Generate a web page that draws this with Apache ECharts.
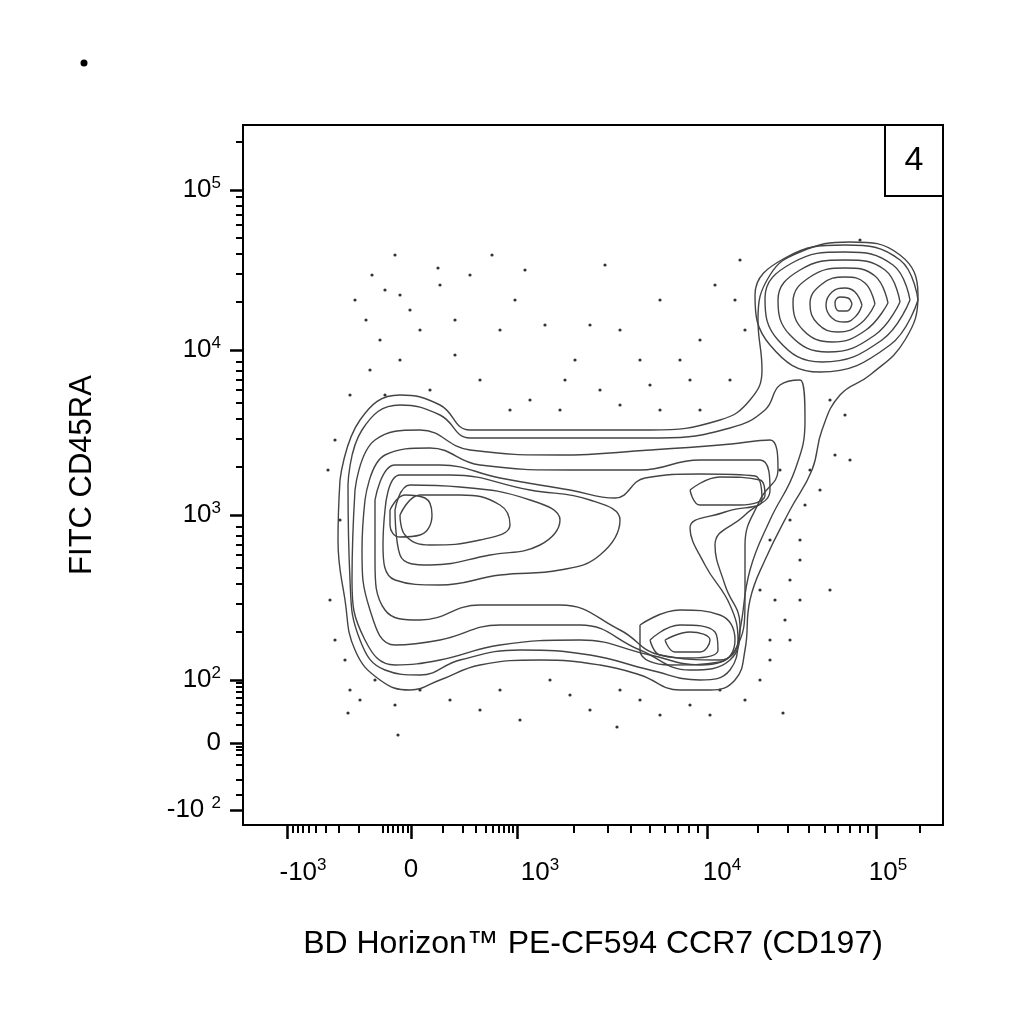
<!DOCTYPE html>
<html>
<head>
<meta charset="utf-8">
<script src="https://cdn.jsdelivr.net/npm/echarts@6/dist/echarts.min.js"></script>
<style>html,body{margin:0;padding:0;background:#fff}#chart{width:1024px;height:1024px}</style>
</head>
<body>
<div id="chart"></div>
<script>
// axis units are display channels of the biexponential scale (0..700 across the plot)
const xMajorTicks = [287, 411, 517, 707, 876];
const xMinorTicks = [293, 298, 303, 309, 316, 326, 339, 359, 383, 388, 393, 398, 403, 408,
  443, 463, 476, 486, 493, 499, 504, 509, 513,
  574, 608, 631, 650, 665, 678, 689, 698,
  758, 788, 809, 825, 838, 850, 860, 868, 920];
const xLabelPos = [303, 411, 540, 722, 888];
const xLabels = ['-10{s|3}', '0', '10{s|3}', '10{s|4}', '10{s|5}'];

const yMajorTicks = [190, 350, 515, 680, 743, 810];
const yMinorTicks = [142, 632, 604, 584, 568, 555, 545, 536, 527,
  467, 439, 419, 403, 390, 380, 371, 362,
  302, 274, 254, 238, 225, 215, 206, 197,
  725, 713, 705, 698, 692, 687, 683,
  747, 750, 755, 765, 780, 795];
const yLabelPos = [190, 350, 515, 680, 743, 810];
const yLabels = ['10{s|5}', '10{s|4}', '10{s|3}', '10{s|2}', '0', '-10 {s|2}'];

// contour lines
const contours = [
  [[340,480],[360,420],[400,395],[440,405],[470,430],[560,430],[650,430],[720,420],[750,400],[762,370],[758,320],[770,275],[800,252],[850,242],[900,255],[918,295],[905,340],[870,375],[840,395],[822,430],[812,470],[790,510],[765,560],[750,600],[745,650],[735,680],[710,690],[680,690],[640,675],[600,665],[540,660],[480,665],[440,680],[410,690],[380,680],[355,650],[345,600],[338,540]],
  [[348,485],[362,430],[400,405],[440,415],[470,438],[560,438],[660,438],[730,428],[765,410],[780,385],[800,380],[805,420],[795,470],[770,520],[750,570],[740,630],[730,670],[700,680],[650,670],[590,655],[520,650],[460,660],[420,675],[385,670],[360,640],[350,580]],
  [[355,490],[375,440],[420,430],[470,450],[560,455],[650,450],[720,445],[770,440],[778,470],[760,500],[745,545],[745,600],[735,650],[700,665],[650,655],[580,640],[500,645],[440,660],[395,665],[365,640],[352,580]],
  [[365,500],[385,455],[430,448],[480,465],[570,470],[640,470],[700,460],[760,460],[770,490],[745,515],[715,545],[725,585],[740,625],[730,660],[690,670],[640,650],[580,625],[500,625],[440,640],[395,645],[370,610],[362,550]],
  [[375,500],[395,465],[440,465],[500,478],[570,490],[615,498],[645,478],[700,474],[755,476],[762,500],[725,512],[690,528],[705,565],[730,605],[738,640],[720,660],[660,655],[620,630],[560,605],[480,605],[420,620],[385,610],[375,560]],
  [[385,510],[400,475],[450,475],[530,490],[590,500],[620,520],[600,555],[560,570],[500,575],[440,585],[395,580],[383,545]],
  [[395,510],[410,485],[460,487],[530,500],[560,520],[540,545],[490,555],[430,565],[400,555]],
  [[400,515],[420,495],[460,495],[500,505],[510,525],[480,540],[430,545],[405,535]],
  [[390,510],[405,495],[425,498],[432,515],[420,535],[400,537],[390,525]],
  [[690,490],[720,477],[760,480],[765,495],[740,505],[700,505]],
  [[640,625],[680,610],[720,615],[735,640],[720,662],[670,665],[640,650]],
  [[650,640],[680,625],[715,632],[718,650],[690,658],[660,655]],
  [[665,640],[690,632],[710,640],[700,652],[675,652]],
  [[918,300],[900,260],[845,245],[785,258],[755,295],[770,345],[820,372],[890,345]],
  [[910,300],[893,265],[845,252],[792,263],[765,298],[778,340],[822,362],[882,340]],
  [[900,302],[885,270],[845,260],[800,270],[778,300],[790,335],[828,352],[875,335]],
  [[888,303],[875,276],[845,268],[810,277],[793,302],[803,330],[832,342],[866,330]],
  [[875,304],[865,283],[845,277],[822,284],[810,304],[818,324],[838,332],[860,324]],
  [[862,305],[855,292],[845,288],[832,292],[826,305],[832,318],[845,322],[856,316]],
  [[852,304],[848,298],[840,297],[835,303],[839,311],[847,311]]
];

// outlying events
const dots = [[372,275],[385,290],[355,300],[400,295],[410,310],[438,268],[470,275],[492,255],[525,270],[395,255],
  [366,320],[380,340],[420,330],[455,320],[455,355],[400,360],[370,370],[350,395],[385,395],[430,390],
  [480,380],[510,410],[530,400],[545,325],[590,325],[605,265],[620,330],[640,360],[660,410],[690,380],
  [700,340],[715,285],[735,300],[730,380],[600,390],[560,410],[620,405],[575,360],[500,330],[660,300],
  [700,410],[745,330],[740,260],[335,440],[328,470],[340,520],[330,600],[335,640],[345,660],[350,690],
  [348,713],[360,700],[375,680],[395,705],[398,735],[420,690],[450,700],[480,710],[500,690],[520,720],
  [550,680],[570,695],[590,710],[617,727],[620,690],[640,700],[660,715],[690,705],[710,715],[720,690],
  [745,700],[760,680],[770,660],[783,713],[770,640],[785,620],[775,600],[790,580],[800,560],[800,540],
  [790,520],[805,505],[820,490],[835,455],[850,460],[830,590],[800,600],[790,640],[760,590],[810,470],
  [845,415],[830,400],[860,240],[780,470],[770,540],[440,285],[515,300],[565,380],[650,385],[680,360]];

const font = 'Liberation Sans, Arial, sans-serif';
const rich = { s: { fontSize: 17, verticalAlign: 'top', padding: [0, 0, 14, 0], fontFamily: font, color: '#000' } };

const chart = echarts.init(document.getElementById('chart'));

const series = contours.map(c => ({
  type: 'line', xAxisIndex: 0, yAxisIndex: 0,
  data: c.concat([c[0]]), smooth: 0.45, symbol: 'none', silent: true,
  lineStyle: { color: '#444', width: 1.4 }
}));
series.push({
  type: 'scatter', data: dots, symbolSize: 3.2,
  itemStyle: { color: '#000' }, silent: true
});

chart.setOption({
  animation: false,
  backgroundColor: '#fff',
  grid: { left: 243, right: 81, top: 125, bottom: 199, show: true, borderColor: '#000', borderWidth: 2 },
  xAxis: [{
    type: 'value', min: 243, max: 943,
    name: 'BD Horizon™ PE-CF594 CCR7 (CD197)', nameLocation: 'middle', nameGap: 103,
    nameTextStyle: { fontSize: 32, fontFamily: font, color: '#000' },
    axisLine: { show: true, lineStyle: { color: '#000', width: 2 } },
    splitLine: { show: false },
    axisTick: { customValues: xMajorTicks, length: 14, lineStyle: { color: '#000', width: 2.5 } },
    axisLabel: { customValues: xLabelPos, margin: 32, fontSize: 26, fontFamily: font, color: '#000', rich: rich,
      formatter: v => xLabels[xLabelPos.indexOf(v)] }
  }, {
    type: 'value', min: 243, max: 943, position: 'bottom',
    axisLine: { show: false }, splitLine: { show: false },
    axisTick: { customValues: xMinorTicks, length: 8, lineStyle: { color: '#000', width: 2 } },
    axisLabel: { show: false }
  }],
  yAxis: [{
    type: 'value', min: 125, max: 825, inverse: true,
    name: 'FITC CD45RA', nameLocation: 'middle', nameGap: 145,
    nameTextStyle: { fontSize: 31, fontFamily: font, color: '#000' },
    axisLine: { show: true, lineStyle: { color: '#000', width: 2 } },
    splitLine: { show: false },
    axisTick: { customValues: yMajorTicks, length: 13, lineStyle: { color: '#000', width: 2.5 } },
    axisLabel: { customValues: yLabelPos, margin: 22, fontSize: 26, fontFamily: font, color: '#000', rich: rich,
      formatter: v => yLabels[yLabelPos.indexOf(v)] }
  }, {
    type: 'value', min: 125, max: 825, inverse: true, position: 'left',
    axisLine: { show: false }, splitLine: { show: false },
    axisTick: { customValues: yMinorTicks, length: 7, lineStyle: { color: '#000', width: 2 } },
    axisLabel: { show: false }
  }],
  graphic: [
    { type: 'circle', shape: { cx: 84, cy: 63, r: 3.5 }, style: { fill: '#000' } },
    { type: 'rect', shape: { x: 885, y: 125, width: 58, height: 71 }, style: { fill: '#fff', stroke: '#000', lineWidth: 2 } },
    { type: 'text', x: 914, y: 161, style: { text: '4', fontSize: 34, fontFamily: font, fill: '#000', align: 'center', verticalAlign: 'middle' } }
  ],
  series: series
});
</script>
</body>
</html>
